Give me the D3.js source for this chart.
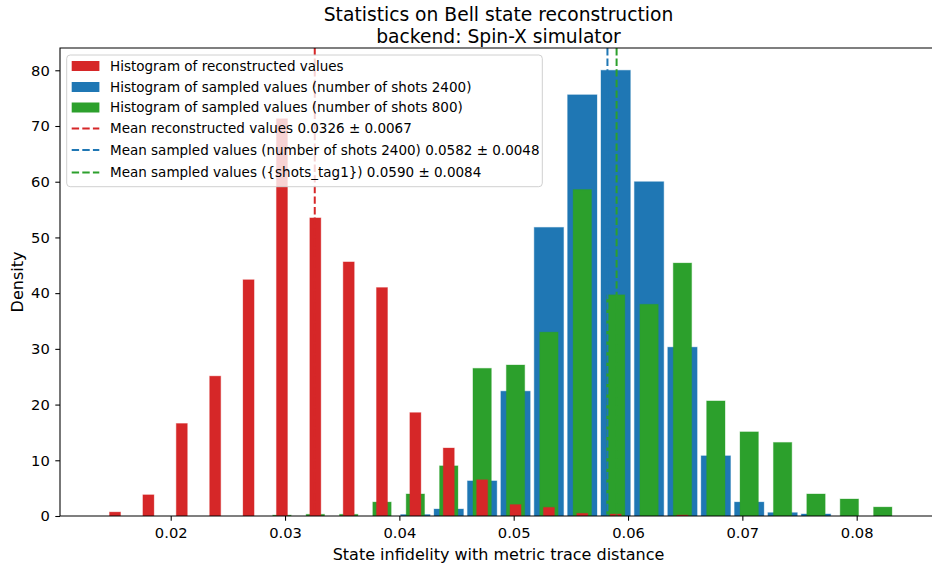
<!DOCTYPE html>
<html>
<head>
<meta charset="utf-8">
<script src="https://cdn.jsdelivr.net/npm/d3@7"></script>
<style>
  body { margin: 0; background: #fff; }
  text { font-family: "DejaVu Sans", sans-serif; fill: #000; }
</style>
</head>
<body>
<svg width="932" height="565"></svg>
<script>
// bin centres shared by the three histograms
var binCenters = [0.01513, 0.01805, 0.02097, 0.02389, 0.02681, 0.02973, 0.03265, 0.03557,
                  0.03848, 0.04140, 0.04432, 0.04724, 0.05016, 0.05308, 0.05600, 0.05892,
                  0.06184, 0.06476, 0.06768, 0.07060, 0.07352, 0.07644, 0.07936, 0.08228];
var binWidth = 0.00292;

var reconstructed = [0.7, 3.8, 16.6, 25.1, 42.4, 71.3, 53.5, 45.6, 41.0, 18.55, 12.2, 6.5,
                     2.05, 1.55, 0.48, 0.35, 0, 0.18, 0, 0, 0, 0, 0, 0];
var sampled2400 = [0, 0, 0, 0, 0, 0, 0, 0, 0, 0.25, 1.25, 6.3,
                   22.4, 51.8, 75.6, 80.0, 60.0, 30.3, 10.8, 2.5, 0.6, 0.36, 0, 0];
var sampled800 = [0, 0, 0, 0, 0, 0.15, 0.3, 0.3, 2.5, 3.95, 9.0, 26.5,
                  27.1, 33.0, 58.6, 39.7, 38.0, 45.4, 20.65, 15.1, 13.2, 3.95, 3.05, 1.6];

var means = [0.0326, 0.0582, 0.0590];
var xTicks = [0.02, 0.03, 0.04, 0.05, 0.06, 0.07, 0.08];
var yTicks = [0, 10, 20, 30, 40, 50, 60, 70, 80];

var legendLabels = [
  "Histogram of reconstructed values",
  "Histogram of sampled values (number of shots 2400)",
  "Histogram of sampled values (number of shots 800)",
  "Mean reconstructed values 0.0326 \u00b1 0.0067",
  "Mean sampled values (number of shots 2400) 0.0582 \u00b1 0.0048",
  "Mean sampled values ({shots_tag1}) 0.0590 \u00b1 0.0084"
];

var red = "#d62728", blue = "#1f77b4", green = "#2ca02c";

var svg = d3.select("svg");
var pLeft = 60, pRight = 937, pTop = 48, pBottom = 516;

var x = d3.scaleLinear().domain([0.010317, 0.087025]).range([pLeft, pRight]);
var y = d3.scaleLinear().domain([0, 84]).range([pBottom, pTop]);
var binPx = x(binWidth) - x(0);

svg.append("clipPath").attr("id", "plot")
  .append("rect").attr("x", pLeft).attr("y", pTop)
  .attr("width", pRight - pLeft).attr("height", pBottom - pTop);

var g = svg.append("g").attr("clip-path", "url(#plot)");

function bars(values, color, frac) {
  g.append("g").selectAll("rect")
    .data(values.map(function(v, i) { return {c: binCenters[i], v: v}; }).filter(function(d) { return d.v > 0; }))
    .enter().append("rect")
    .attr("x", function(d) { return x(d.c) - frac * binPx / 2; })
    .attr("width", frac * binPx)
    .attr("y", function(d) { return y(d.v); })
    .attr("height", function(d) { return y(0) - y(d.v); })
    .attr("fill", color)
    .attr("stroke", color)
    .attr("stroke-opacity", 0.35)
    .attr("stroke-width", 1);
}
bars(sampled2400, blue, 0.88);
bars(sampled800, green, 0.55);
bars(reconstructed, red, 0.33);

// mean lines
g.selectAll("line.mean")
  .data(means)
  .enter().append("line")
  .attr("class", "mean")
  .attr("x1", function(d) { return x(d); })
  .attr("x2", function(d) { return x(d); })
  .attr("y1", pTop).attr("y2", pBottom)
  .attr("stroke", function(d, i) { return [red, blue, green][i]; })
  .attr("stroke-width", 2)
  .attr("stroke-dasharray", "7.4,3.2");

// axes
var xAxis = svg.append("g")
  .attr("transform", "translate(0," + pBottom + ")")
  .call(d3.axisBottom(x).tickValues(xTicks).tickFormat(d3.format(".2f")).tickSize(4.7).tickPadding(6.5));
var yAxis = svg.append("g")
  .attr("transform", "translate(" + pLeft + ",0)")
  .call(d3.axisLeft(y).tickValues(yTicks).tickSize(4.7).tickPadding(5.5));
[xAxis, yAxis].forEach(function(a) {
  a.select(".domain").remove();
  a.selectAll("text").style("font-size", "14.7px").style("font-family", "DejaVu Sans").attr("fill", "#000");
  a.selectAll("line").attr("stroke", "#000").attr("stroke-width", 1.07);
});

// spines
svg.append("path")
  .attr("d", "M" + pRight + "," + pTop + "H" + pLeft + "V" + pBottom + "H" + pRight)
  .attr("fill", "none").attr("stroke", "#000").attr("stroke-width", 1.07);

// legend
var leg = svg.append("g");
leg.append("rect")
  .attr("x", 66.7).attr("y", 55).attr("width", 475.6).attr("height", 131.7)
  .attr("rx", 3.5)
  .attr("fill", "#fff").attr("fill-opacity", 0.8)
  .attr("stroke", "#d0d0d0").attr("stroke-width", 1);

var rowsY = [66, 87, 107.5, 128.5, 150, 172.5];
var colors = [red, blue, green, red, blue, green];
legendLabels.forEach(function(label, i) {
  var ry = rowsY[i];
  if (i < 3) {
    leg.append("rect").attr("x", 71.7).attr("y", ry - 5).attr("width", 27.7).attr("height", 10)
      .attr("fill", colors[i]);
  } else {
    leg.append("line").attr("x1", 71.7).attr("x2", 99.3).attr("y1", ry).attr("y2", ry)
      .attr("stroke", colors[i]).attr("stroke-width", 2).attr("stroke-dasharray", "7.4,3.2");
  }
  leg.append("text").attr("x", 110).attr("y", ry).attr("dy", "0.35em")
    .style("font-size", "13.5px").text(label);
});

// title and labels
svg.append("text").attr("x", 498.5).attr("y", 21).attr("text-anchor", "middle")
  .style("font-size", "18.7px").text("Statistics on Bell state reconstruction");
svg.append("text").attr("x", 498.5).attr("y", 43).attr("text-anchor", "middle")
  .style("font-size", "18.7px").text("backend: Spin-X simulator");
svg.append("text").attr("x", 498.5).attr("y", 560).attr("text-anchor", "middle")
  .style("font-size", "16px").text("State infidelity with metric trace distance");
svg.append("text").attr("transform", "translate(23," + ((pTop + pBottom) / 2) + ") rotate(-90)")
  .attr("text-anchor", "middle").style("font-size", "16px").text("Density");
</script>
</body>
</html>
